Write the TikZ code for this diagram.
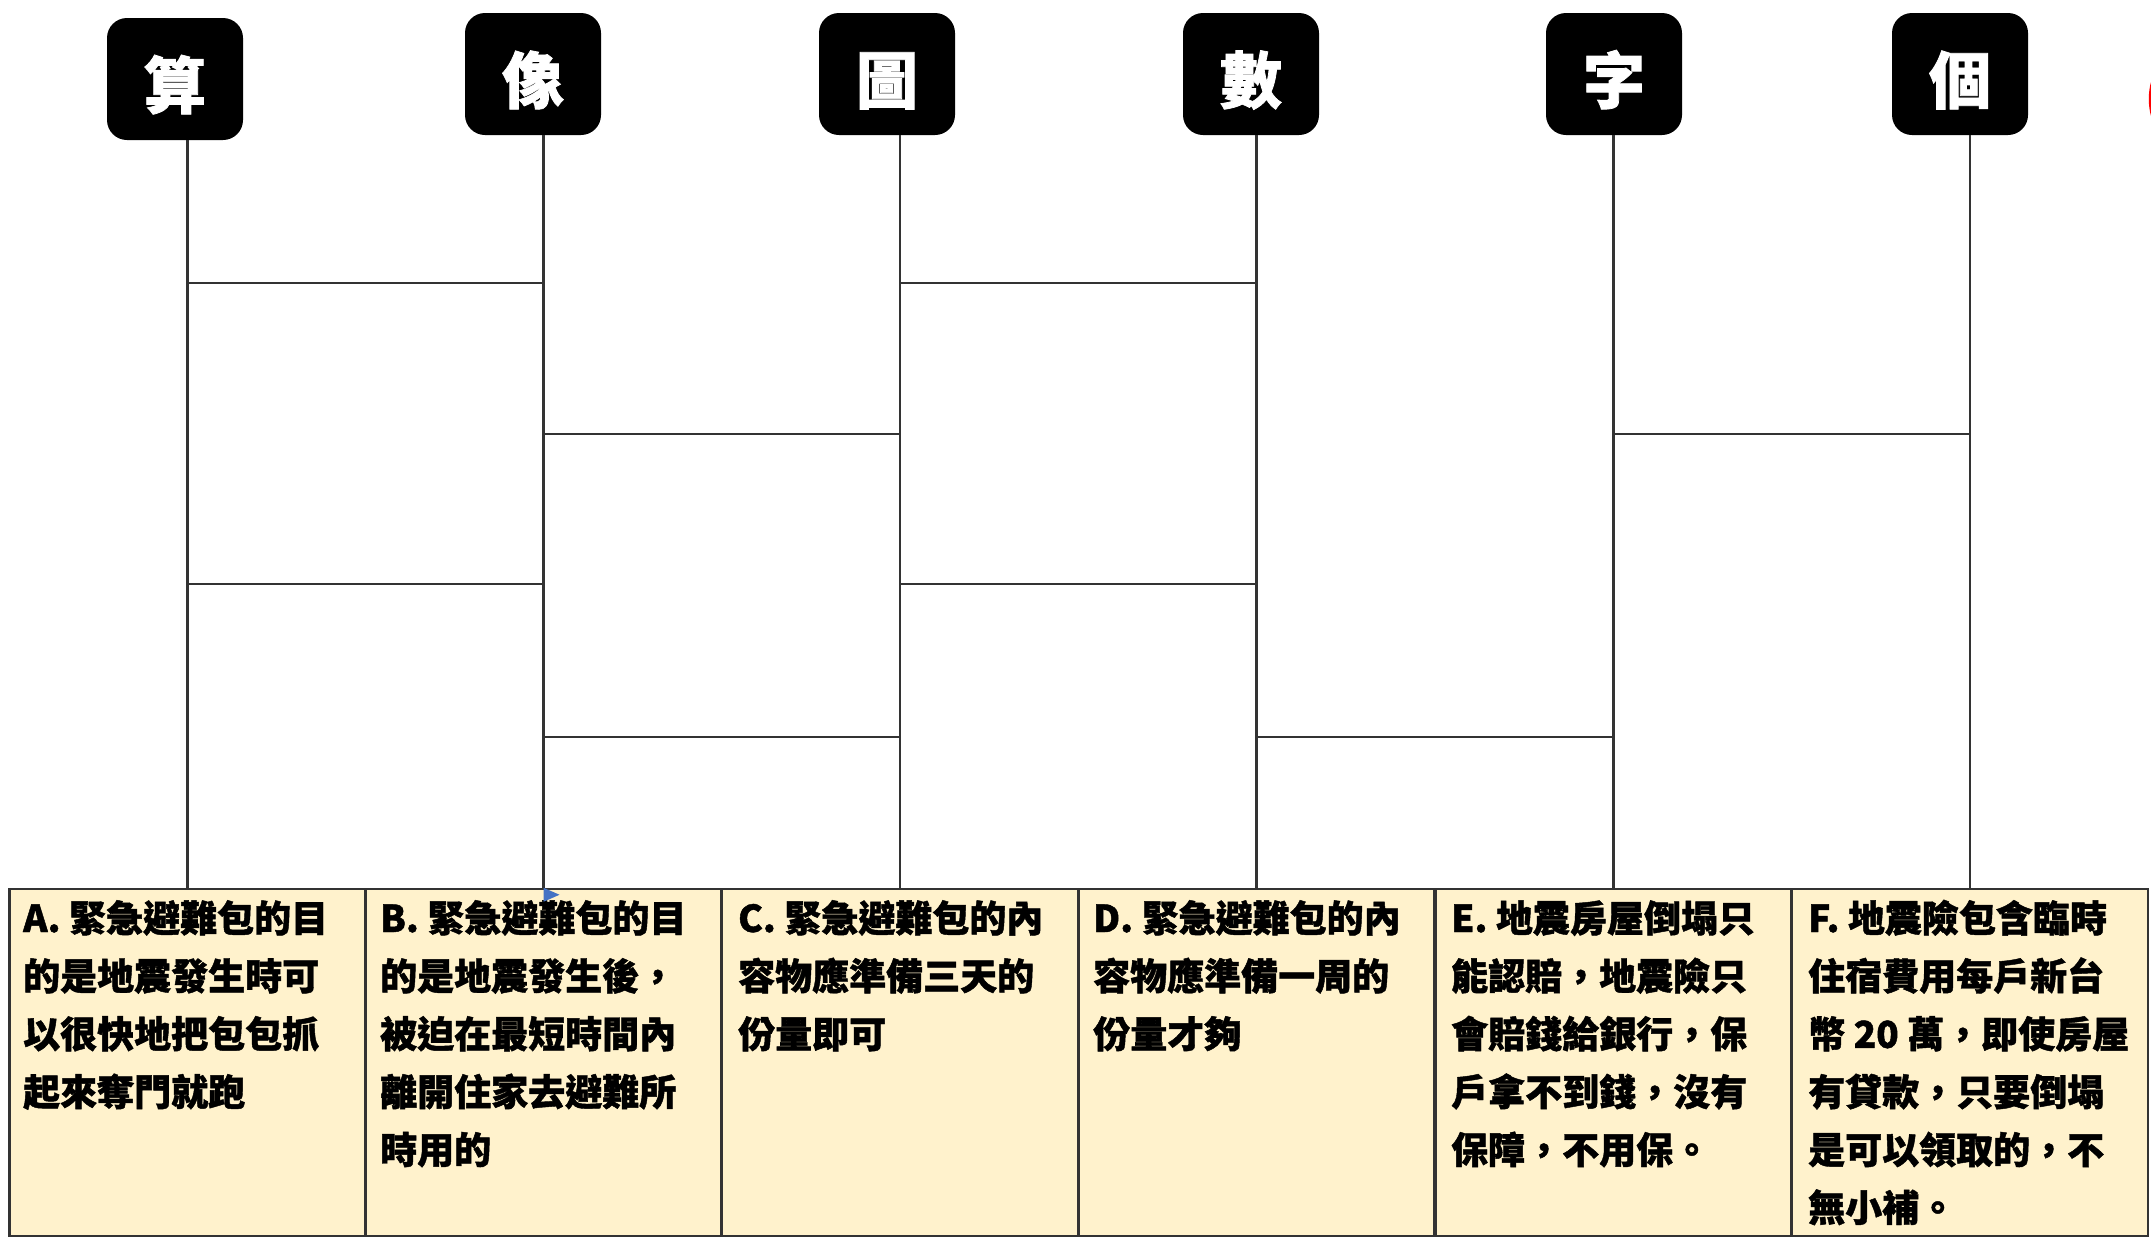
\documentclass[tikz,border=0pt]{standalone}
\usepackage{fontspec}
\newfontfamily\cjk{Noto Sans CJK TC}
\newfontfamily\cjkheavy{Noto Sans CJK TC}[FakeBold=1.2]
\definecolor{boxfill}{HTML}{FFF2CC}
\definecolor{linecol}{HTML}{333333}
\definecolor{cursorblue}{HTML}{4472C4}
\begin{document}
\begin{tikzpicture}[x=1pt,y=-1pt,
  topbox/.style={fill=black, rounded corners=20pt, minimum width=136pt, minimum height=122pt, inner sep=0pt, text=white, text height=59pt, text depth=0pt, font=\cjkheavy\bfseries\fontsize{62}{62}\selectfont},
  cardbox/.style={draw=linecol, line width=2.5pt, fill=boxfill, minimum width=356pt, minimum height=347pt, inner sep=0pt},
  legline/.style={draw=linecol, line width=2.4pt},
  cardtext/.style={anchor=base west, inner sep=0pt, font=\cjkheavy\bfseries\fontsize{37}{37}\selectfont}]
\useasboundingbox[fill=white] (0,0) rectangle (2151,1240);

% top labels
\node[topbox] (t1) at (175,79) {算};
\node[topbox] (t2) at (533,74) {像};
\node[topbox] (t3) at (887,74) {圖};
\node[topbox] (t4) at (1251,74) {數};
\node[topbox] (t5) at (1614,74) {字};
\node[topbox] (t6) at (1960,74) {個};

% bottom cards
\node[cardbox] (b1) at (187.5,1062.5) {};
\node[cardbox] (b2) at (543.5,1062.5) {};
\node[cardbox] (b3) at (900,1062.5) {};
\node[cardbox] (b4) at (1256.5,1062.5) {};
\node[cardbox] (b5) at (1613.5,1062.5) {};
\node[cardbox] (b6) at (1970,1062.5) {};

% vertical legs
\foreach \k in {1,...,6}
  \draw[legline] (t\k.south -| b\k.north) -- (b\k.north);

% rungs
\draw[legline, shorten >=1pt] (b1.north |- 0,283) -- (b1.north east |- 0,283);
\draw[legline, shorten <=1pt] (b2.north west |- 0,283) -- (b2.north |- 0,283);
\draw[legline, shorten >=1pt] (b3.north |- 0,283) -- (b3.north east |- 0,283);
\draw[legline, shorten <=1pt] (b4.north west |- 0,283) -- (b4.north |- 0,283);

\draw[legline, shorten >=1pt] (b2.north |- 0,434) -- (b2.north east |- 0,434);
\draw[legline, shorten <=1pt] (b3.north west |- 0,434) -- (b3.north |- 0,434);
\draw[legline, shorten >=1pt] (b5.north |- 0,434) -- (b5.north east |- 0,434);
\draw[legline, shorten <=1pt] (b6.north west |- 0,434) -- (b6.north |- 0,434);

\draw[legline] (b1.north |- 0,584) -- (b2.north |- 0,584);
\draw[legline] (b3.north |- 0,584) -- (b4.north |- 0,584);

\draw[legline] (b2.north |- 0,737) -- (b3.north |- 0,737);
\draw[legline] (b4.north |- 0,737) -- (b5.north |- 0,737);

% card texts
\foreach \t [count=\i] in {A. 緊急避難包的目,的是地震發生時可,以很快地把包包抓,起來奪門就跑}
  \node[cardtext] (ta\i) at (23,{932+(\i-1)*57.9}) {\t};
\foreach \t [count=\i] in {B. 緊急避難包的目,的是地震發生後，,被迫在最短時間內,離開住家去避難所,時用的}
  \node[cardtext] (tb\i) at (380,{932+(\i-1)*57.9}) {\t};
\foreach \t [count=\i] in {C. 緊急避難包的內,容物應準備三天的,份量即可}
  \node[cardtext] (tc\i) at (738,{932+(\i-1)*57.9}) {\t};
\foreach \t [count=\i] in {D. 緊急避難包的內,容物應準備一周的,份量才夠}
  \node[cardtext] (td\i) at (1093,{932+(\i-1)*57.9}) {\t};
\foreach \t [count=\i] in {E. 地震房屋倒塌只,能認賠，地震險只,會賠錢給銀行，保,戶拿不到錢，沒有,保障，不用保。}
  \node[cardtext] (te\i) at (1451,{932+(\i-1)*57.9}) {\t};
\foreach \t [count=\i] in {F. 地震險包含臨時,住宿費用每戶新台,幣 20 萬，即使房屋,有貸款，只要倒塌,是可以領取的，不,無小補。}
  \node[cardtext] (tf\i) at (1808,{932+(\i-1)*57.9}) {\t};

% small blue marker at top of card B
\fill[cursorblue] (b2.north) -- ++(16,7) -- ++(-16,7) -- cycle;

% red arc fragment at right edge
\draw[red, line width=2.5pt] (2214,99) circle (64);
\end{tikzpicture}
\end{document}
